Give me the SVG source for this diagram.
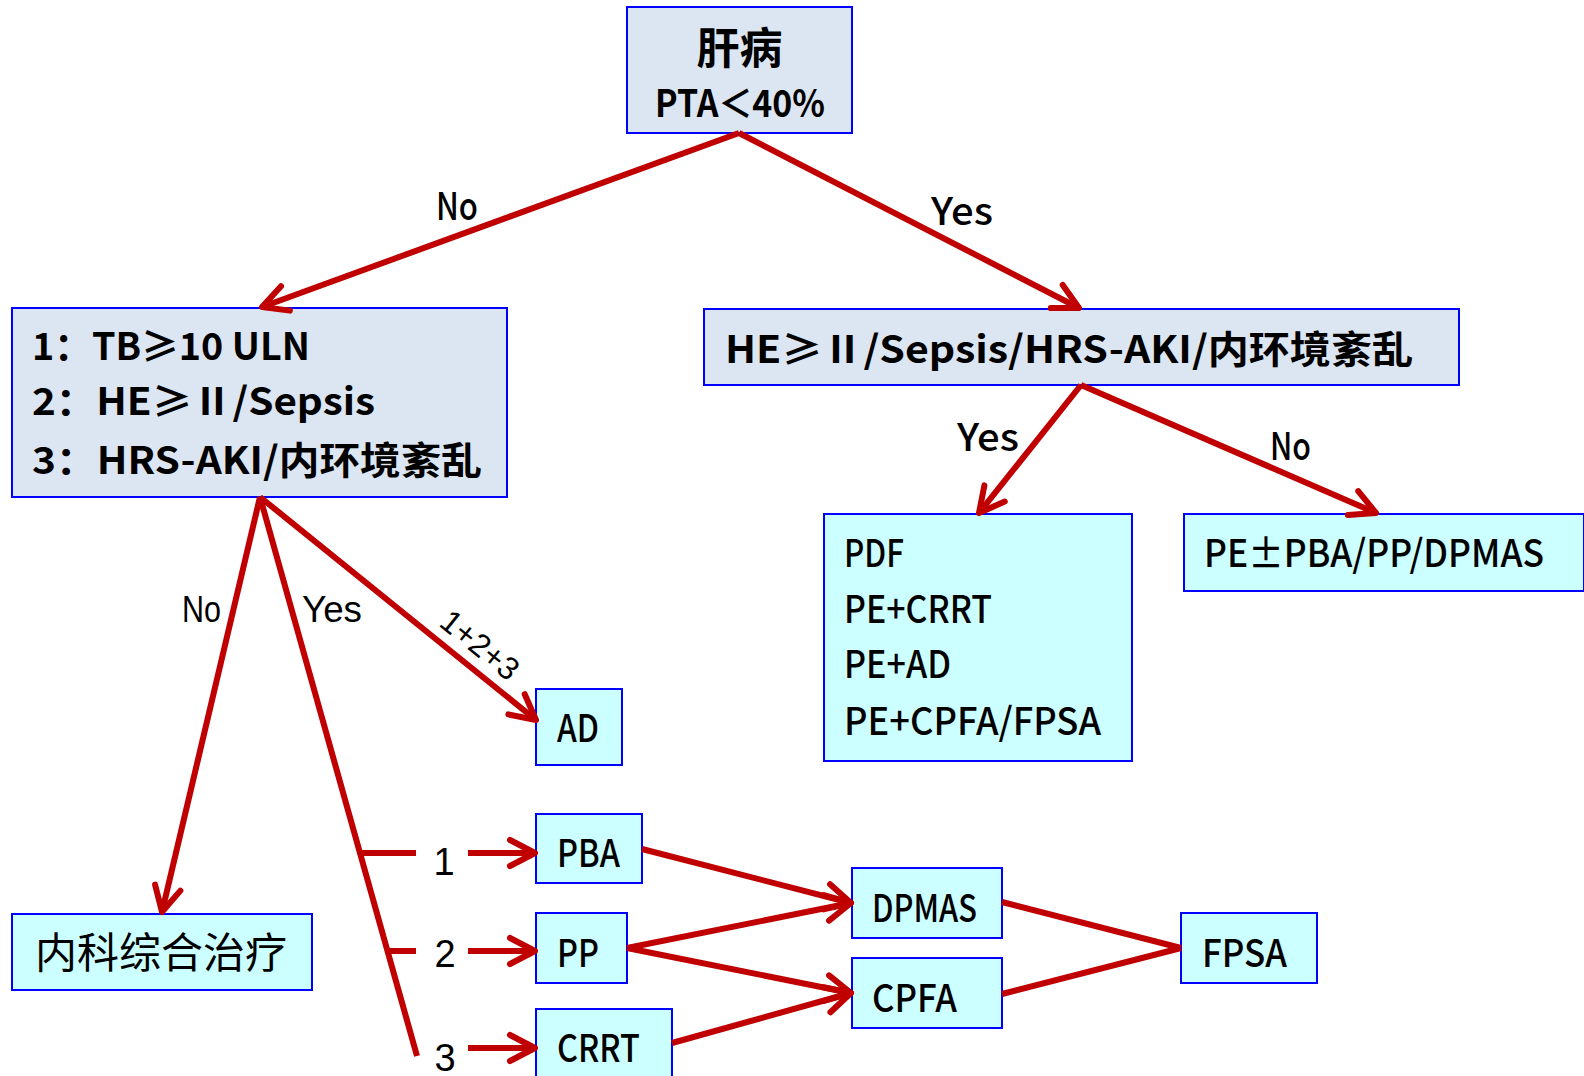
<svg xmlns="http://www.w3.org/2000/svg" width="1584" height="1076" viewBox="0 0 1584 1076">
  <defs>
    <style>
      .box-a { fill: #DCE6F2; stroke: #0000FF; stroke-width: 2; }
      .box-b { fill: #CCFFFF; stroke: #0000FF; stroke-width: 2; }
      .link { fill: none; stroke: #C00000; stroke-width: 6; stroke-linecap: butt; stroke-linejoin: round; }
      .arr { marker-end: url(#arrow); }
      .hb { font-family: "Noto Sans CJK SC", "Noto Sans", sans-serif; font-weight: 700; font-size: 38px; fill: #000; }
      .hr { font-family: "Noto Sans CJK SC", "Noto Sans", sans-serif; font-weight: 500; font-size: 38px; fill: #000; }
      .lb { font-family: "Liberation Sans", Arial, sans-serif; font-size: 37px; fill: #000; }
    </style>
    <marker id="arrow" markerUnits="userSpaceOnUse" orient="auto" markerWidth="40" markerHeight="40" refX="0" refY="0" overflow="visible">
      <path d="M-25,-13 L0,0 L-25,13" fill="none" stroke="#C00000" stroke-width="6" stroke-linecap="round" stroke-linejoin="round"/>
    </marker>
  </defs>

  <!-- decision boxes -->
  <g id="liver">
    <rect class="box-a" x="627" y="7" width="225" height="126"/>
    <text class="hb" x="739.5" y="64" text-anchor="middle" style="font-size:43px">肝病</text>
    <text class="hb" x="655" y="117" textLength="170" lengthAdjust="spacingAndGlyphs">PTA＜40%</text>
  </g>

  <g id="criteria">
    <rect class="box-a" x="12" y="308" width="495" height="189"/>
    <text class="hb" x="32" y="360" textLength="278" lengthAdjust="spacingAndGlyphs">1：TB≥10 ULN</text>
    <text class="hb" x="32" y="415" textLength="343" lengthAdjust="spacingAndGlyphs">2：HE≥Ⅱ/Sepsis</text>
    <text class="hb" x="32" y="474" textLength="450" lengthAdjust="spacingAndGlyphs">3：HRS-AKI/内环境紊乱</text>
  </g>

  <g id="complication">
    <rect class="box-a" x="704" y="309" width="755" height="76"/>
    <text class="hb" x="725" y="363" textLength="688" lengthAdjust="spacingAndGlyphs">HE≥Ⅱ/Sepsis/HRS-AKI/内环境紊乱</text>
  </g>

  <!-- treatment boxes -->
  <g id="combined">
    <rect class="box-b" x="824" y="514" width="308" height="247"/>
    <text class="hr" x="844" y="567" textLength="60" lengthAdjust="spacingAndGlyphs">PDF</text>
    <text class="hr" x="844" y="623" textLength="148" lengthAdjust="spacingAndGlyphs">PE+CRRT</text>
    <text class="hr" x="844" y="678" textLength="107" lengthAdjust="spacingAndGlyphs">PE+AD</text>
    <text class="hr" x="844" y="735" textLength="257" lengthAdjust="spacingAndGlyphs">PE+CPFA/FPSA</text>
  </g>

  <g id="pe-plus">
    <rect class="box-b" x="1184" y="514" width="400" height="77"/>
    <text class="hr" x="1204" y="567" textLength="340" lengthAdjust="spacingAndGlyphs">PE±PBA/PP/DPMAS</text>
  </g>

  <g id="medical">
    <rect class="box-b" x="12" y="914" width="300" height="76"/>
    <text class="hr" x="35" y="968" style="font-size:42px;font-weight:400">内科综合治疗</text>
  </g>

  <g id="ad">
    <rect class="box-b" x="536" y="689" width="86" height="76"/>
    <text class="hr" x="557" y="742" textLength="42" lengthAdjust="spacingAndGlyphs">AD</text>
  </g>

  <g id="pba">
    <rect class="box-b" x="536" y="814" width="106" height="69"/>
    <text class="hr" x="557" y="867" textLength="63" lengthAdjust="spacingAndGlyphs">PBA</text>
  </g>

  <g id="pp">
    <rect class="box-b" x="536" y="913" width="91" height="70"/>
    <text class="hr" x="557" y="967" textLength="42" lengthAdjust="spacingAndGlyphs">PP</text>
  </g>

  <g id="crrt">
    <rect class="box-b" x="536" y="1009" width="136" height="70"/>
    <text class="hr" x="557" y="1062" textLength="83" lengthAdjust="spacingAndGlyphs">CRRT</text>
  </g>

  <g id="dpmas">
    <rect class="box-b" x="852" y="868" width="150" height="70"/>
    <text class="hr" x="872" y="922" textLength="105" lengthAdjust="spacingAndGlyphs">DPMAS</text>
  </g>

  <g id="cpfa">
    <rect class="box-b" x="852" y="958" width="150" height="70"/>
    <text class="hr" x="872" y="1012" textLength="85" lengthAdjust="spacingAndGlyphs">CPFA</text>
  </g>

  <g id="fpsa">
    <rect class="box-b" x="1181" y="913" width="136" height="70"/>
    <text class="hr" x="1202" y="967" textLength="85" lengthAdjust="spacingAndGlyphs">FPSA</text>
  </g>

  <!-- connectors and their labels -->
  <g id="connectors">
    <line class="link arr" x1="739" y1="133" x2="262" y2="307"/>
    <line class="link arr" x1="739" y1="133" x2="1079" y2="308"/>
    <line class="link arr" x1="1081" y1="385" x2="979" y2="513"/>
    <line class="link arr" x1="1081" y1="385" x2="1376" y2="513"/>
    <line class="link arr" x1="260" y1="497" x2="162" y2="912"/>
    <line class="link arr" x1="260" y1="497" x2="536" y2="720"/>
    <line class="link" x1="260" y1="497" x2="417" y2="1056"/>
    <line class="link" x1="359" y1="853" x2="416" y2="853"/>
    <line class="link" x1="387" y1="951" x2="416" y2="951"/>
    <line class="link arr" x1="468" y1="853" x2="535" y2="853"/>
    <line class="link arr" x1="468" y1="951" x2="535" y2="951"/>
    <line class="link arr" x1="468" y1="1048" x2="535" y2="1048"/>
    <line class="link arr" x1="642" y1="849" x2="851" y2="903"/>
    <line class="link arr" x1="627" y1="948" x2="851" y2="903"/>
    <line class="link arr" x1="627" y1="948" x2="851" y2="993"/>
    <line class="link arr" x1="672" y1="1043" x2="851" y2="993"/>
    <line class="link" x1="1002" y1="902" x2="1181" y2="948"/>
    <line class="link" x1="1002" y1="994" x2="1181" y2="948"/>

    <text class="hr" x="436" y="220" textLength="42" lengthAdjust="spacingAndGlyphs">No</text>
    <text class="hr" x="931" y="225" textLength="62" lengthAdjust="spacingAndGlyphs">Yes</text>
    <text class="hr" x="957" y="451" textLength="62" lengthAdjust="spacingAndGlyphs">Yes</text>
    <text class="hr" x="1270" y="460" textLength="41" lengthAdjust="spacingAndGlyphs">No</text>
    <text class="lb" x="182" y="622" textLength="39" lengthAdjust="spacingAndGlyphs">No</text>
    <text class="lb" x="302" y="622" textLength="60" lengthAdjust="spacingAndGlyphs">Yes</text>
    <text class="lb" text-anchor="middle" transform="translate(480,645) rotate(39)" y="11" style="font-size:32px">1+2+3</text>
    <text class="lb" x="444" y="875" text-anchor="middle" style="font-size:38px">1</text>
    <text class="lb" x="445" y="967" text-anchor="middle" style="font-size:38px">2</text>
    <text class="lb" x="445" y="1071" text-anchor="middle" style="font-size:38px">3</text>
  </g>
</svg>
